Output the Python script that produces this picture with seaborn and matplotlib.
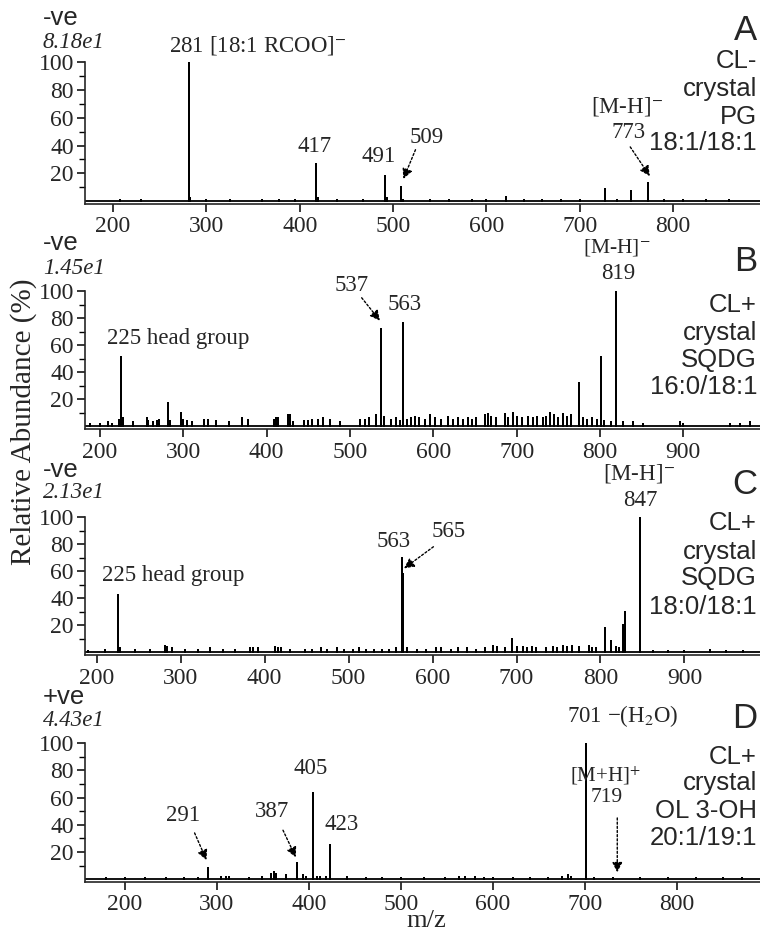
import matplotlib
matplotlib.use("Agg")
import matplotlib.pyplot as plt
import seaborn as sns
import pandas as pd
from matplotlib.ticker import MultipleLocator

# ---------------- data ----------------
a_mz = [281, 417, 491, 509, 773, 727, 755, 621,
        207, 230, 283, 300, 325, 360, 378, 395, 420, 440, 468, 493, 511, 540,
        560, 585, 600, 640, 660, 680, 700, 740, 790, 810, 835, 860]
a_int = [100, 27, 18, 10, 13, 9, 7, 3,
         1, 1, 2, 1, 1, 1, 1, 1, 2, 1, 1, 2, 1, 1,
         1, 1, 1, 1, 1, 1, 1, 1, 1, 1, 1, 1]

b_mz = [225, 281, 297, 537, 563, 775, 801, 819,
        188, 200, 210, 214, 223, 227, 240, 256, 258, 264, 268, 271, 284, 299, 304, 310,
        325, 329, 339, 355, 370, 378, 409, 411, 414, 426, 428, 432, 445, 450, 454, 462,
        467, 476, 488, 512, 518, 523, 531, 541, 549, 555, 560, 568, 573, 578, 583, 590,
        596, 602, 609, 617, 624, 630, 636, 641, 646, 651, 662, 665, 669, 675, 686, 690,
        695, 700, 706, 713, 719, 724, 731, 735, 740, 745, 750, 755, 760, 765, 779, 784,
        790, 796, 805, 813, 828, 840, 852, 896, 900, 956, 968, 980]
b_int = [51, 17, 10, 72, 76, 32, 51, 100,
         2, 2, 3, 2, 5, 6, 3, 6, 4, 3, 4, 5, 4, 5, 4, 3,
         5, 5, 4, 3, 6, 5, 5, 6, 6, 8, 8, 3, 4, 4, 5, 5,
         6, 5, 3, 5, 5, 6, 8, 7, 5, 6, 4, 5, 6, 7, 6, 5,
         8, 6, 5, 7, 5, 6, 5, 6, 5, 6, 8, 9, 7, 6, 9, 6,
         10, 7, 6, 7, 6, 7, 6, 7, 10, 8, 6, 9, 7, 8, 6, 5,
         6, 5, 4, 3, 3, 3, 2, 3, 2, 2, 2, 3]

c_mz = [225, 563, 565, 805, 812, 827, 829, 847, 695,
        190, 210, 228, 245, 264, 281, 284, 290, 305, 320, 335, 350, 365, 382, 386, 392,
        412, 416, 420, 430, 448, 456, 467, 474, 486, 494, 505, 512, 521, 530, 540, 548,
        556, 570, 582, 592, 604, 610, 622, 630, 641, 652, 662, 672, 677, 686, 700, 708,
        713, 718, 723, 735, 744, 748, 755, 760, 766, 775, 786, 790, 795, 818, 822, 862,
        880, 900, 930, 950, 970]
c_int = [42, 70, 58, 18, 8, 20, 30, 100, 10,
         1, 2, 3, 2, 2, 5, 4, 3, 2, 2, 3, 2, 2, 3, 3, 3,
         4, 3, 3, 2, 2, 2, 3, 2, 3, 2, 2, 3, 2, 2, 2, 2,
         3, 3, 2, 2, 3, 3, 2, 3, 3, 2, 3, 5, 4, 3, 4, 4,
         3, 4, 3, 3, 4, 3, 5, 4, 5, 4, 5, 3, 3, 4, 3, 1,
         1, 1, 2, 1, 1]

d_mz = [291, 387, 405, 423, 701,
        180, 200, 222, 245, 265, 280, 305, 310, 313, 335, 349, 359, 362, 364, 375, 394,
        397, 409, 412, 419, 441, 462, 480, 500, 525, 548, 563, 570, 580, 590, 600, 622,
        640, 660, 675, 681, 685, 710, 730, 760, 790, 820, 850, 870]
d_int = [8, 12, 63, 25, 100,
         1, 1, 1, 1, 1, 1, 2, 2, 2, 1, 2, 4, 5, 4, 3, 3,
         2, 2, 2, 2, 2, 1, 1, 1, 1, 1, 2, 2, 2, 1, 1, 1,
         1, 1, 2, 3, 2, 1, 1, 1, 1, 1, 1, 1]

mode_labels = ["-ve", "-ve", "-ve", "+ve"]
scale_labels = ["8.18e1", "1.45e1", "2.13e1", "4.43e1"]
panel_letters = ["A", "B", "C", "D"]
sample_lines = [["CL-", "crystal", "PG", "18:1/18:1"],
                ["CL+", "crystal", "SQDG", "16:0/18:1"],
                ["CL+", "crystal", "SQDG", "18:0/18:1"],
                ["CL+", "crystal", "OL 3-OH", "20:1/19:1"]]

# ---------------- style ----------------
sns.set_theme(style="ticks")
plt.rcParams["font.family"] = ["Liberation Serif", "DejaVu Serif"]
plt.rcParams["mathtext.fontset"] = "stix"
plt.rcParams["axes.linewidth"] = 1.2

W, H = 760, 933
fig = plt.figure(figsize=(W / 100, H / 100), dpi=100)


def fx(px):
    return px / W


def fy(py):
    return 1 - py / H


SERIF = ["Liberation Serif", "DejaVu Serif"]
SANS = ["Liberation Sans", "DejaVu Sans"]
TICK_FS = 17
LAB_FS = 16.5
SANS_FS = 18.5

layout = [  # (top px, bottom px, xlim)
    (62, 204, (170, 893)),
    (291, 429, (182, 992)),
    (517, 655, (186, 990)),
    (743, 882, (157, 890)),
]
spectra = [(a_mz, a_int), (b_mz, b_int), (c_mz, c_int), (d_mz, d_int)]

text_rows = [  # (mode y, scale y, letter y, sample line ys)
    (18, 43, 31, [61, 89, 117, 143]),
    (243, 268, 262, [305, 333, 360, 387]),
    (470, 493, 485, [523, 552, 578, 607]),
    (697, 720, 718, [757, 783, 811, 838]),
]

axes = []
for i, ((top, bot, xl), (mz, ab)) in enumerate(zip(layout, spectra)):
    ax = fig.add_axes([fx(85), fy(bot), fx(760 - 85), (bot - top) / H])
    order = sorted(range(len(mz)), key=lambda k: mz[k])
    xs, ys = [xl[0]], [0.0]
    for k in order:
        xs += [mz[k], mz[k], mz[k]]
        ys += [0.0, ab[k], 0.0]
    xs.append(xl[1])
    ys.append(0.0)
    df = pd.DataFrame({"mz": xs, "ab": ys})
    sns.lineplot(data=df, x="mz", y="ab", sort=False, estimator=None,
                 color="black", lw=1.3, ax=ax)
    ax.set_xlim(*xl)
    ax.set_ylim(-2, 100)
    ax.set_xlabel("")
    ax.set_ylabel("")
    ax.set_yticks([20, 40, 60, 80, 100])
    ax.set_yticks([10, 30, 50, 70, 90], minor=True)
    ax.xaxis.set_major_locator(MultipleLocator(100))
    ax.tick_params(axis="both", which="major", direction="out", length=6,
                   width=1.1, labelsize=TICK_FS, color="black", pad=2)
    ax.tick_params(axis="x", which="major", pad=3)
    ax.tick_params(axis="y", which="minor", direction="out", length=4,
                   width=1.0, color="black")
    for lab in ax.get_xticklabels() + ax.get_yticklabels():
        lab.set_family(SERIF)
    ax.spines["top"].set_visible(False)
    ax.spines["right"].set_visible(False)
    ax.spines["left"].set_bounds(-2, 100)
    ax.patch.set_alpha(0)
    axes.append(ax)

    my, sy, ly, lines = text_rows[i]
    fig.text(fx(43), fy(my), mode_labels[i], family=SANS, fontsize=SANS_FS,
             ha="left", va="center")
    fig.text(fx(43), fy(sy), scale_labels[i], family=SERIF, fontsize=LAB_FS,
             fontstyle="italic", ha="left", va="center")
    fig.text(fx(757), fy(ly), panel_letters[i], family=SANS, fontsize=25,
             ha="right", va="center")
    for t, yy in zip(sample_lines[i], lines):
        fig.text(fx(757), fy(yy), t, family=SANS, fontsize=SANS_FS,
                 ha="right", va="center")

arrow = dict(arrowstyle="-|>", linestyle=(0, (1.5, 1.5)), color="black",
             lw=1.0, mutation_scale=15, shrinkA=0, shrinkB=0)
tk = dict(fontsize=LAB_FS, family=SERIF, ha="center", va="center", clip_on=False)

# Panel A
ax = axes[0]
ax.text(260, 112, "281 [18:1 RCOO]$^{-}$", **{**tk, "ha": "left"})
ax.text(416, 39, "417", **tk)
ax.text(484, 32, "491", **tk)
ax.text(536, 46, "509", **tk)
ax.annotate("", xy=(511, 16), xytext=(524, 37), arrowprops=arrow)
ax.text(751, 68, "[M-H]$^{-}$", **tk)
ax.text(752, 49, "773", **tk)
ax.annotate("", xy=(775, 18), xytext=(754, 39), arrowprops=arrow)

# Panel B
ax = axes[1]
ax.text(294, 65, "225 head group", **tk)
ax.text(502, 104, "537", **tk)
ax.annotate("", xy=(536, 78), xytext=(514, 95), arrowprops=arrow)
ax.text(566, 90, "563", **tk)
ax.text(820, 132, "[M-H]$^{-}$", **{**tk, "fontsize": 15.5})
ax.text(822, 113, "819", **tk)

# Panel C
ax = axes[2]
ax.text(291, 57, "225 head group", **tk)
ax.text(554, 82, "563", **tk)
ax.text(619, 89, "565", **tk)
ax.annotate("", xy=(566, 62), xytext=(601, 78), arrowprops=arrow)
ax.text(846, 132, "[M-H]$^{-}$", **tk)
ax.text(847, 112, "847", **tk)

# Panel D
ax = axes[3]
ax.text(263, 47, "291", **tk)
ax.annotate("", xy=(289, 14), xytext=(276, 34), arrowprops=arrow)
ax.text(360, 50, "387", **tk)
ax.annotate("", xy=(386, 16), xytext=(372, 36), arrowprops=arrow)
ax.text(402, 81, "405", **tk)
ax.text(436, 40, "423", **tk)
ax.text(741, 120, "701 \u2212(H$_2$O)", **tk)
ax.text(722, 76, "[M+H]$^{+}$", **{**tk, "fontsize": 15})
ax.text(724, 60, "719", **{**tk, "fontsize": 15.5})
ax.annotate("", xy=(735, 5), xytext=(735, 45), arrowprops=arrow)

fig.text(fx(24), fy(422), "Relative Abundance (%)", family=SERIF, fontsize=21,
         rotation=90, ha="center", va="center")
fig.text(fx(426), fy(921), "m/z", family=SERIF, fontsize=19,
         ha="center", va="center")

fig.savefig("out.png", dpi=100)
